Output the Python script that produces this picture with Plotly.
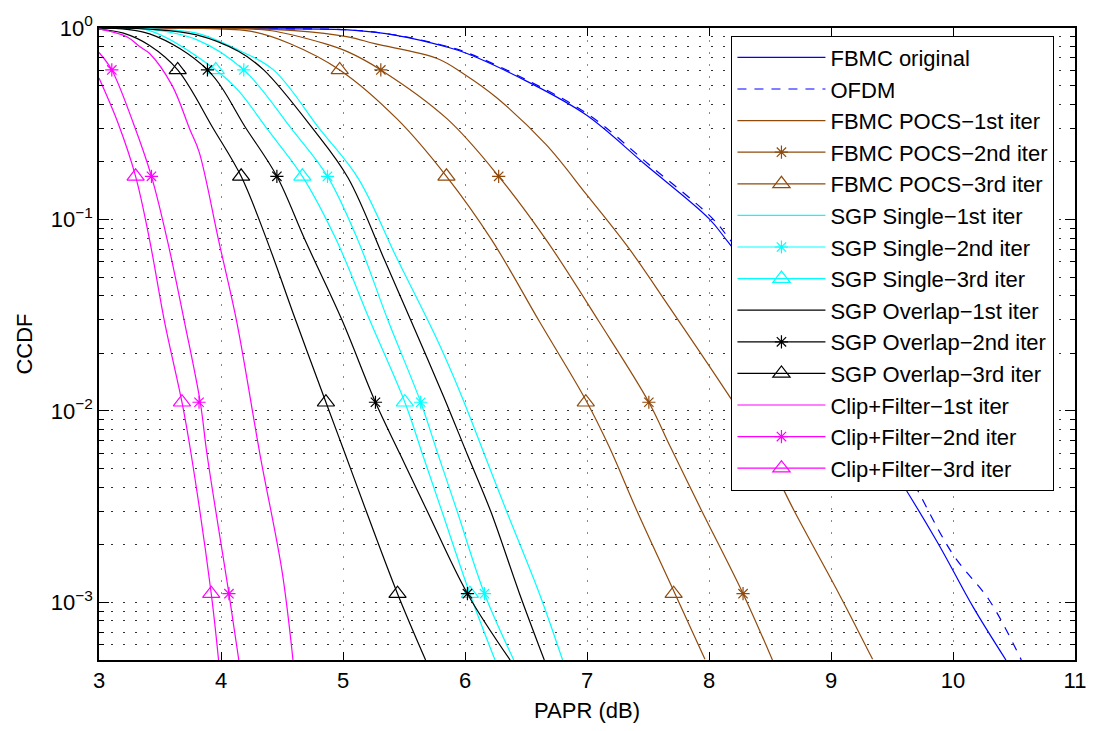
import math
import plotly.graph_objects as go

# ---------------- data ----------------
# FBMC original / OFDM
fbmc_x = [3.0, 4.0, 4.44, 5.04, 5.447, 5.85, 6.016, 6.504, 6.992, 7.48, 8.0, 8.154, 8.8, 9.417, 9.865, 10.163, 10.434]
fbmc_y = [1.0, 0.998, 0.99, 0.977, 0.913, 0.796, 0.736, 0.528, 0.352, 0.193, 0.101, 0.0765, 0.022, 0.0061, 0.0021, 0.00095, 0.0005]
ofdm_x = [3.0, 4.0, 4.44, 5.05, 5.46, 5.87, 6.035, 6.525, 7.015, 7.51, 8.03, 8.185, 8.86, 9.54, 10.0, 10.30, 10.56]
ofdm_y = [1.0, 0.998, 0.99, 0.977, 0.913, 0.796, 0.736, 0.528, 0.352, 0.193, 0.101, 0.0765, 0.022, 0.0059, 0.00178, 0.00102, 0.0005]

# FBMC POCS
pocs1_x = [3.0, 4.0, 4.6, 5.041, 5.260, 5.772, 6.0, 6.260, 6.667, 6.992, 7.341, 7.667, 8.146, 8.431, 8.699, 9.065, 9.341]
pocs1_y = [1.0, 0.998, 0.97, 0.899, 0.828, 0.693, 0.57, 0.432, 0.245, 0.136, 0.071, 0.0355, 0.0125, 0.00653, 0.0030, 0.00111, 0.000504]
pocs2_x = [3.0, 4.0, 4.4, 4.851, 5.041, 5.31, 5.854, 6.276, 6.667, 7.098, 7.507, 7.683, 7.941, 8.279, 8.520]
pocs2_y = [1.0, 0.997, 0.97, 0.828, 0.75, 0.604, 0.335, 0.168, 0.078, 0.0293, 0.0111, 0.0065, 0.0030, 0.00111, 0.0005]
pocs3_x = [3.0, 3.8, 4.25, 4.567, 4.973, 5.447, 5.848, 6.22, 6.61, 6.99, 7.18, 7.41, 7.71, 7.967]
pocs3_y = [1.0, 0.997, 0.96, 0.828, 0.604, 0.333, 0.168, 0.078, 0.0293, 0.0114, 0.00653, 0.0030, 0.00115, 0.000504]

# SGP Single
ss1_x = [3.0, 3.415, 3.8, 4.146, 4.43, 4.81, 5.122, 5.447, 5.772, 5.976, 6.16, 6.34, 6.61, 6.80]
ss1_y = [1.0, 0.99, 0.94, 0.765, 0.604, 0.296, 0.165, 0.0617, 0.0235, 0.0118, 0.0059, 0.0030, 0.00111, 0.0005]
ss2_x = [3.0, 3.415, 3.8, 4.187, 4.58, 4.873, 5.122, 5.366, 5.637, 5.78, 5.935, 6.16, 6.40]
ss2_y = [1.0, 0.985, 0.87, 0.604, 0.296, 0.168, 0.078, 0.030, 0.0111, 0.0059, 0.0030, 0.00111, 0.0005]
ss3_x = [3.0, 3.415, 3.957, 4.146, 4.38, 4.667, 4.946, 5.217, 5.507, 5.653, 5.81, 6.04, 6.246]
ss3_y = [0.999, 0.969, 0.604, 0.468, 0.296, 0.168, 0.078, 0.030, 0.0111, 0.0059, 0.0030, 0.00111, 0.0005]

# SGP Overlap
so1_x = [3.0, 3.415, 3.8, 4.146, 4.35, 4.756, 5.041, 5.339, 5.553, 5.827, 6.02, 6.21, 6.447, 6.65]
so1_y = [1.0, 0.985, 0.92, 0.753, 0.604, 0.296, 0.165, 0.0617, 0.030, 0.0118, 0.0059, 0.0030, 0.00111, 0.0005]
so2_x = [3.0, 3.415, 3.889, 4.21, 4.458, 4.689, 4.99, 5.266, 5.47, 5.69, 6.02, 6.37]
so2_y = [0.999, 0.932, 0.604, 0.296, 0.168, 0.078, 0.030, 0.0111, 0.0059, 0.0030, 0.00111, 0.0005]
so3_x = [3.0, 3.2, 3.415, 3.645, 3.94, 4.165, 4.376, 4.61, 4.86, 5.02, 5.19, 5.447, 5.677]
so3_y = [0.985, 0.94, 0.81, 0.604, 0.296, 0.168, 0.078, 0.030, 0.0111, 0.0059, 0.0030, 0.00111, 0.0005]

# Clip + Filter
cf1_x = [3.0, 3.228, 3.333, 3.415, 3.60, 3.744, 3.82, 3.98, 4.13, 4.32, 4.50, 4.59]
cf1_y = [0.99, 0.90, 0.80, 0.736, 0.50, 0.296, 0.226, 0.078, 0.029, 0.0059, 0.00146, 0.0005]
cf2_x = [3.0, 3.105, 3.28, 3.43, 3.56, 3.70, 3.83, 3.886, 4.065, 4.146]
cf2_y = [0.745, 0.604, 0.32, 0.168, 0.078, 0.0293, 0.0111, 0.0059, 0.00111, 0.0005]
cf3_x = [3.0, 3.155, 3.30, 3.415, 3.537, 3.68, 3.756, 3.92, 3.98]
cf3_y = [0.548, 0.32, 0.168, 0.078, 0.0293, 0.0111, 0.0059, 0.00111, 0.0005]

# marker positions (CCDF levels where markers sit, and PAPR of each marker)
marker_levels = [0.604, 0.168, 0.0111, 0.00111]
pocs2_mx = [5.31, 6.276, 7.507, 8.279]
pocs3_mx = [4.973, 5.848, 6.99, 7.71]
ss2_mx = [4.187, 4.873, 5.637, 6.16]
ss3_mx = [3.957, 4.667, 5.507, 6.04]
so2_mx = [3.889, 4.458, 5.266, 6.02]
so3_mx = [3.645, 4.165, 4.86, 5.447]
cf2_mx = [3.105, 3.43, 3.82, 4.065]
cf3_mx = [3.30, 3.68, 3.92]
cf3_levels = [0.168, 0.0111, 0.00111]

y_tick_vals = [1e-3, 1e-2, 1e-1, 1.0]
y_tick_text = ["10<sup>\u22123</sup>", "10<sup>\u22122</sup>", "10<sup>\u22121</sup>", "10<sup>0</sup>"]
x_ticks = [3, 4, 5, 6, 7, 8, 9, 10, 11]

BLUE = "#0000FF"
BROWN = "#8F4A0C"
CYAN = "#00FFFF"
BLACK = "#000000"
MAGENTA = "#FF00FF"
FONT = "Liberation Sans, Arial, Helvetica, sans-serif"

series = [
    ("FBMC original", fbmc_x, fbmc_y, BLUE, "solid", None, None, None),
    ("OFDM", ofdm_x, ofdm_y, BLUE, "9px,8px", None, None, None),
    ("FBMC POCS\u22121st iter", pocs1_x, pocs1_y, BROWN, "solid", None, None, None),
    ("FBMC POCS\u22122nd iter", pocs2_x, pocs2_y, BROWN, "solid", "asterisk-open", pocs2_mx, marker_levels),
    ("FBMC POCS\u22123rd iter", pocs3_x, pocs3_y, BROWN, "solid", "triangle-up-open", pocs3_mx, marker_levels),
    ("SGP Single\u22121st iter", ss1_x, ss1_y, CYAN, "solid", None, None, None),
    ("SGP Single\u22122nd iter", ss2_x, ss2_y, CYAN, "solid", "asterisk-open", ss2_mx, marker_levels),
    ("SGP Single\u22123rd iter", ss3_x, ss3_y, CYAN, "solid", "triangle-up-open", ss3_mx, marker_levels),
    ("SGP Overlap\u22121st iter", so1_x, so1_y, BLACK, "solid", None, None, None),
    ("SGP Overlap\u22122nd iter", so2_x, so2_y, BLACK, "solid", "asterisk-open", so2_mx, marker_levels),
    ("SGP Overlap\u22123rd iter", so3_x, so3_y, BLACK, "solid", "triangle-up-open", so3_mx, marker_levels),
    ("Clip+Filter\u22121st iter", cf1_x, cf1_y, MAGENTA, "solid", None, None, None),
    ("Clip+Filter\u22122nd iter", cf2_x, cf2_y, MAGENTA, "solid", "asterisk-open", cf2_mx, marker_levels),
    ("Clip+Filter\u22123rd iter", cf3_x, cf3_y, MAGENTA, "solid", "triangle-up-open", cf3_mx, cf3_levels),
]

def msize(sym):
    return 15 if sym and sym.startswith("triangle") else 11

fig = go.Figure()
for i, (name, xs, ys, col, dash, sym, mx, my) in enumerate(series):
    # curve
    fig.add_trace(go.Scatter(
        x=xs, y=ys, mode="lines", name=name, legendgroup=name,
        line=dict(color=col, width=1.2, dash=dash, shape="spline", smoothing=1.0),
        showlegend=(sym is None), legendrank=i + 1, hoverinfo="skip",
    ))
    if sym is not None:
        fig.add_trace(go.Scatter(
            x=mx, y=my, mode="markers", name=name, legendgroup=name, showlegend=False,
            marker=dict(symbol=sym, size=msize(sym), color=col, line=dict(color=col, width=1.2)),
            hoverinfo="skip",
        ))
        # legend entry showing line + marker
        fig.add_trace(go.Scatter(
            x=[None], y=[None], mode="lines+markers", name=name, legendgroup=name,
            line=dict(color=col, width=1.2),
            marker=dict(symbol=sym, size=msize(sym), color=col, line=dict(color=col, width=1.2)),
            showlegend=True, legendrank=i + 1,
        ))

minor_y = [k * 10 ** e for e in range(-4, 0) for k in range(2, 10) if k * 10 ** e >= 5e-4]

fig.update_layout(
    width=1098, height=731,
    margin=dict(l=99, r=15, t=24, b=63),
    paper_bgcolor="white", plot_bgcolor="white",
    font=dict(family=FONT, size=22, color="black"),
    showlegend=True,
    legend=dict(
        x=0.648, y=0.988, xanchor="left", yanchor="top",
        bgcolor="white", bordercolor="black", borderwidth=1,
        font=dict(family=FONT, size=22, color="black"),
        traceorder="normal", itemwidth=88, tracegroupgap=0,
    ),
    xaxis=dict(
        range=[3, 11], tickmode="array", tickvals=x_ticks,
        ticks="inside", ticklen=8, tickwidth=1, tickcolor="black",
        showline=True, linecolor="black", linewidth=1.5, mirror="ticks",
        showgrid=True, gridcolor="#8a8a8a", gridwidth=1, griddash="2px,10px",
        zeroline=False,
        tickfont=dict(family=FONT, size=22),
        title=dict(text="PAPR (dB)", font=dict(family=FONT, size=22), standoff=10),
    ),
    yaxis=dict(
        type="log", range=[math.log10(5e-4), 0],
        tickmode="array", tickvals=y_tick_vals, ticktext=y_tick_text,
        ticks="inside", ticklen=10, tickwidth=1, tickcolor="black",
        showline=True, linecolor="black", linewidth=1.5, mirror="ticks",
        showgrid=True, gridcolor="#333333", gridwidth=1, griddash="2px,10px",
        zeroline=False,
        minor=dict(tickmode="array", tickvals=minor_y, ticks="inside", ticklen=5,
                   tickcolor="black", showgrid=True, gridcolor="#333333",
                   gridwidth=1, griddash="2px,10px"),
        tickfont=dict(family=FONT, size=22),
        title=dict(text="CCDF", font=dict(family=FONT, size=22), standoff=12),
    ),
)

fig.write_html("out.html")
